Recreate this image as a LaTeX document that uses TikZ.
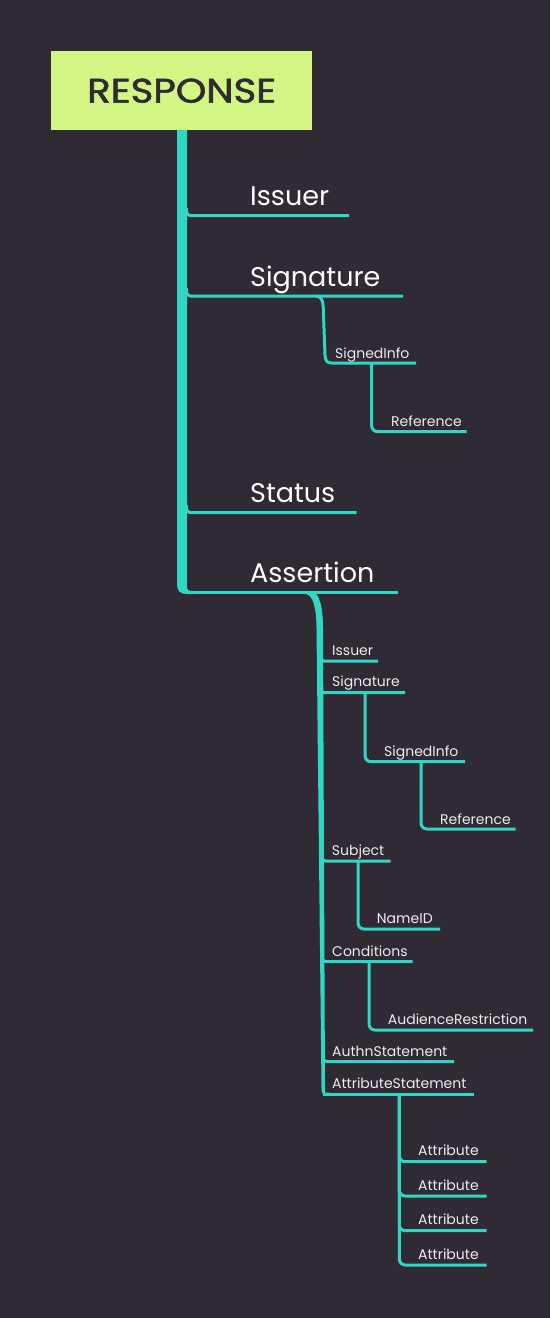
\documentclass[tikz,border=0pt]{standalone}
\usepackage{fontspec}
\setmainfont{Poppins}
\newfontfamily\respfont[FakeBold=1.6]{Poppins}
\definecolor{bgc}{HTML}{2F2A33}
\definecolor{tl}{HTML}{30D7C3}
\definecolor{lime}{HTML}{D3F584}
\begin{document}
\begin{tikzpicture}[x=1pt,y=-1pt,
  br/.style={draw=tl,line width=3pt,rounded corners=6pt},
  stub/.style={draw=tl,line width=3pt,rounded corners=4pt},
  bigt/.style={anchor=base west,inner sep=0pt,text=white,font=\fontsize{27}{30}\selectfont},
  smt/.style={anchor=base west,inner sep=0pt,text=white!93!black,font=\fontsize{14}{16}\selectfont}]
\fill[bgc] (0,0) rectangle (550,1318);
\useasboundingbox (0,0) rectangle (550,1318);
% root
\node[fill=lime,minimum width=261pt,minimum height=79pt,inner sep=0pt,anchor=north west,text=bgc,font=\fontsize{34}{40}\respfont] (resp) at (51,51) {\scalebox{1.14}[1]{RESPONSE}};
% trunk
\coordinate (tkL) at (177,130);
\coordinate (tkR) at (187,130);
\fill[tl] (tkL) -- (tkR) -- (187,586) .. controls (187,590) and (188,591) .. (193,591) -- (193,594) -- (187,594) .. controls (180,594) and (177,591) .. (177,584) -- cycle;
% level 1 texts
\node[bigt] (issuer) at (250,205) {Issuer};
\node[bigt] (sig) at (250,286) {Signature};
\node[bigt] (status) at (250,502) {Status};
\node[bigt] (assert) at (250,582.7) {Assertion};
% level 1 line ends
\coordinate (issuerE) at (349,215.7);
\coordinate (sigE) at (403,296);
\coordinate (statusE) at (356.7,512.7);
\coordinate (assertS) at (190,592.5);
\coordinate (assertE) at (397.7,592.5);
\draw[stub] (186.5,208) |- (issuerE);
\draw[stub] (186.5,288) |- (sigE);
\draw[stub] (186.5,505) |- (statusE);
\draw[tl,line width=3pt] (assertS) -- (assertE);
% Signature subtree
\node[smt] (sinfo1) at (335,358) {SignedInfo};
\node[smt] (ref1) at (391,426) {Reference};
\coordinate (sinfo1S) at (316,296);
\coordinate (sinfo1E) at (416,363);
\coordinate (ref1E) at (466.7,431.7);
\draw[tl,line width=3pt] (sinfo1S) .. controls (322,296) and (323.5,301) .. (323.5,315) -- (325,355) .. controls (325.3,361) and (327,363) .. (332,363) -- (sinfo1E);
\draw[br] (371.7,363) |- (ref1E);
% Assertion spine (tapered)
\coordinate (spTop) at (309,592.5);
\coordinate (spBot) at (323.2,1094);
\fill[tl] (305,591) -- (311,591) .. controls (319,591.5) and (323,606) .. (323,628) -- (325,1088) -- (325,1092.5) -- (330,1092.5) -- (330,1095.5) -- (328,1095.5) .. controls (323,1095.5) and (321.5,1093.5) .. (321.5,1088) -- (316.5,628) .. controls (316.5,608) and (313,594) .. (305,594) -- cycle;
% Assertion children
\node[smt] (a-iss) at (332,655) {Issuer};
\node[smt] (a-sig) at (332,686.7) {Signature};
\node[smt] (a-sinfo) at (384,756) {SignedInfo};
\node[smt] (a-ref) at (440,824) {Reference};
\node[smt] (a-subj) at (331.7,855.7) {Subject};
\node[smt] (a-nid) at (376.7,923) {NameID};
\node[smt] (a-cond) at (332,956) {Conditions};
\node[smt] (a-aud) at (387.7,1024) {AudienceRestriction};
\node[smt] (a-authn) at (332,1056) {AuthnStatement};
\node[smt] (a-attrs) at (332,1088) {AttributeStatement};
\coordinate (a-issE) at (378,661);
\coordinate (a-sigE) at (405,692.7);
\coordinate (a-sinfoE) at (465,761.7);
\coordinate (a-refE) at (515.7,829);
\coordinate (a-subjE) at (390.7,861);
\coordinate (a-nidE) at (440,929);
\coordinate (a-condE) at (412.7,961.7);
\coordinate (a-audE) at (533,1030);
\coordinate (a-authnE) at (454,1061.7);
\coordinate (a-attrsE) at (474,1094);
\draw[stub] (320,654) |- (a-issE);
\draw[stub] (320.2,686) |- (a-sigE);
\draw[stub] (321.5,854) |- (a-subjE);
\draw[stub] (322.2,955) |- (a-condE);
\draw[stub] (323,1055) |- (a-authnE);
\draw[tl,line width=3pt] (spBot) -- (a-attrsE);
\draw[br] (365,692.7) |- (a-sinfoE);
\draw[br] (421,761.7) |- (a-refE);
\draw[br] (358,861) |- (a-nidE);
\draw[br] (369,961.7) |- (a-audE);
% attributes
\foreach \i/\y in {1/1161.7,2/1196,3/1230.7,4/1265}{
  \node[smt] (attr\i) at (418,\y-6) {Attribute};
  \coordinate (attr\i E) at (486.7,\y);
  \draw[br] (399.3,1094) |- (attr\i E);
}
\end{tikzpicture}
\end{document}
